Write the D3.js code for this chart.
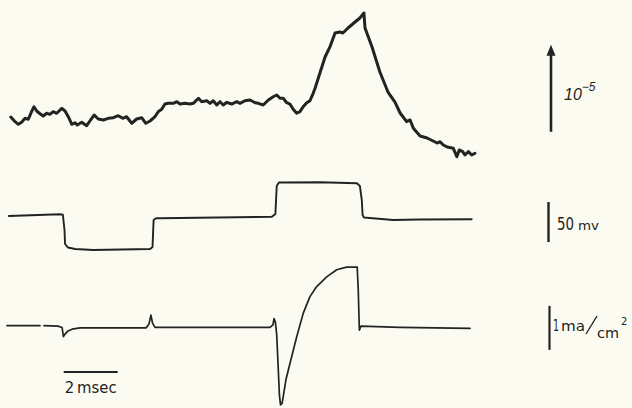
<!DOCTYPE html>
<html><head><meta charset="utf-8">
<script src="https://cdn.jsdelivr.net/npm/d3@7"></script>
<style>html,body{margin:0;padding:0;background:#fcfbf1;} svg{display:block}</style>
</head><body><svg id="c" width="632" height="408"></svg>
<script>
// ---- Top trace: optical change (units of 1e-5) ----
const lightTime = [0.14,0.30,0.42,0.54,0.67,0.79,0.91,1.00,1.10,1.20,1.34,1.47,1.59,1.71,1.84,2.03,2.15,2.27,2.40,2.52,2.60,2.77,2.95,3.07,3.23,3.38,3.57,3.75,3.94,4.12,4.29,4.43,4.62,4.80,4.99,5.14,5.30,5.48,5.60,5.73,5.85,5.97,6.16,6.29,6.41,6.59,6.78,6.90,7.09,7.21,7.40,7.52,7.64,7.77,7.89,8.01,8.14,8.32,8.51,8.63,8.81,9.00,9.19,9.31,9.49,9.68,9.86,9.99,10.11,10.23,10.36,10.48,10.60,10.73,10.85,10.97,11.10,11.22,11.34,11.41,11.59,11.78,11.96,12.15,12.33,12.44,12.63,12.89,13.07,13.22,13.26,13.52,13.81,14.11,14.37,14.56,14.80,14.93,15.05,15.30,15.56,15.93,16.04,16.16,16.30,16.53,16.66,16.75,16.88,16.96,17.09,17.21,17.33];
const lightValue = [0.00,-0.054,-0.084,-0.061,-0.015,-0.026,0.061,0.118,0.069,0.043,0.011,0.043,0.031,0.061,0.043,0.100,0.069,0.003,-0.084,-0.066,-0.092,-0.061,-0.100,-0.046,0.023,-0.023,-0.034,-0.015,-0.008,0.015,-0.015,0.003,-0.072,-0.023,-0.008,-0.072,-0.046,0.003,0.061,0.089,0.149,0.157,0.157,0.176,0.149,0.157,0.149,0.157,0.215,0.176,0.187,0.157,0.187,0.138,0.176,0.138,0.169,0.149,0.176,0.157,0.187,0.195,0.164,0.157,0.138,0.195,0.233,0.253,0.215,0.215,0.164,0.149,0.089,0.043,0.061,0.118,0.164,0.187,0.272,0.330,0.506,0.690,0.805,0.966,0.977,0.966,1.023,1.092,1.138,1.195,1.023,0.805,0.517,0.287,0.172,0.046,-0.054,-0.034,-0.130,-0.218,-0.241,-0.299,-0.284,-0.322,-0.345,-0.360,-0.456,-0.379,-0.398,-0.437,-0.398,-0.437,-0.417];

// ---- Middle trace: membrane potential step (mV) ----
const voltTime  = [0.07,1.96,2.07,2.13,2.15,2.26,2.52,3.19,5.30,5.39,5.43,5.52,5.67,9.81,9.94,9.99,10.07,11.59,12.96,13.07,13.14,13.17,13.22,14.30,15.30,17.21];
const voltValue = [0,2.2,1.5,-17.5,-35,-39.4,-41.3,-42.5,-41.3,-38.8,-5,-2.9,-2.9,-0.9,2.5,37.5,41.9,42.1,40.9,37.5,20,1.2,-1.9,-5,-4.4,-4.1];

// ---- Bottom trace: membrane current (mA/cm2); null = gap in the record ----
const currTime  = [0.00,1.22,1.26,1.37,1.89,2.04,2.09,2.15,2.26,2.41,2.70,5.15,5.26,5.33,5.39,5.48,5.67,9.74,9.85,9.89,9.94,9.99,10.04,10.09,10.13,10.19,10.23,10.33,10.48,10.73,10.97,11.22,11.47,11.84,12.21,12.58,12.97,13.01,13.05,13.11,14.56,17.15];
const currValue = [0.03,0.03,null,0.03,0.02,-0.01,-0.22,-0.16,-0.09,-0.05,-0.02,-0.02,0.07,0.27,0.09,-0.01,-0.01,-0.01,0.05,0.19,0.11,-0.18,-0.86,-1.55,-1.77,-1.73,-1.58,-1.20,-0.83,-0.22,0.31,0.69,0.92,1.14,1.30,1.36,1.36,0.84,-0.07,0.02,-0.01,-0.03];

// ---- Calibration labels ----
const calLight = {value: 1, label: "10", exp: "\u22125"};
const calVolt  = {value: 50, num: "50", unit: "mv"};
const calCurr  = {value: 1, num: "1", unit1: "ma", unit2: "cm", exp: "2"};
const calTime  = {value: 2, label: "2\u2009msec"};

const ink = "#232323";
const svg = d3.select("#c");
svg.append("rect").attr("width",632).attr("height",408).attr("fill","#fcfbf1");

const x = d3.scaleLinear().domain([0,18]).range([7,493]);
const yLight = d3.scaleLinear().domain([0,1]).range([117,30]);
const yVolt  = d3.scaleLinear().domain([0,50]).range([216,176]);
const yCurr  = d3.scaleLinear().domain([0,1]).range([327,283]);

function trace(ts, vs, ys, w){
  const pts = ts.map((t,i)=>[t,vs[i]]);
  const line = d3.line().defined(d=>d[1]!==null).x(d=>x(d[0])).y(d=>ys(d[1]));
  svg.append("path").attr("d",line(pts)).attr("fill","none").attr("stroke",ink)
     .attr("stroke-width",w).attr("stroke-linejoin","round").attr("stroke-linecap","round");
}
trace(lightTime, lightValue, yLight, 3);
trace(voltTime, voltValue, yVolt, 1.9);
trace(currTime, currValue, yCurr, 1.7);

// Light calibration arrow (1 unit)
const ax = 551, aBase = yLight(-0.17), aTip = yLight(-0.17+calLight.value);
svg.append("line").attr("x1",ax).attr("x2",ax).attr("y1",aBase).attr("y2",aTip+8)
   .attr("stroke",ink).attr("stroke-width",2.6);
svg.append("path").attr("d",`M${ax},${aTip} L${ax-4.5},${aTip+11} L${ax+4.5},${aTip+11} Z`).attr("fill",ink);
const tl = svg.append("text").attr("x",564).attr("y",100).attr("fill",ink)
  .style("font-family","'Liberation Sans',Arial,sans-serif").style("font-style","italic").style("font-size","16px");
tl.append("tspan").text(calLight.label);
tl.append("tspan").attr("dy",-9).style("font-size","12px").text(calLight.exp);

const cf = "'DejaVu Sans Condensed','DejaVu Sans',sans-serif";
// Voltage calibration bar (50 mV)
svg.append("line").attr("x1",548.5).attr("x2",548.5).attr("y1",yVolt(17.5)).attr("y2",yVolt(17.5-calVolt.value))
   .attr("stroke",ink).attr("stroke-width",2.4);
svg.append("text").attr("x",557).attr("y",230).attr("fill",ink).style("font-family",cf).style("font-size","17px")
  .attr("textLength",17).attr("lengthAdjust","spacingAndGlyphs").text(calVolt.num);
svg.append("text").attr("x",578).attr("y",230).attr("fill",ink).style("font-family",cf).style("font-size","13px")
  .attr("textLength",21).attr("lengthAdjust","spacingAndGlyphs").text(calVolt.unit);

// Current calibration bar (1 mA/cm2)
svg.append("line").attr("x1",549.5).attr("x2",549.5).attr("y1",yCurr(0.48)).attr("y2",yCurr(0.48-calCurr.value))
   .attr("stroke",ink).attr("stroke-width",2.2);
svg.append("text").attr("x",553).attr("y",331).attr("fill",ink).style("font-family",cf).style("font-size","16px")
  .attr("textLength",6).attr("lengthAdjust","spacingAndGlyphs").text(calCurr.num);
svg.append("text").attr("x",561).attr("y",331).attr("fill",ink).style("font-family",cf).style("font-size","14px")
  .attr("textLength",24).attr("lengthAdjust","spacingAndGlyphs").text(calCurr.unit1);
svg.append("line").attr("x1",586).attr("y1",334).attr("x2",597).attr("y2",316).attr("stroke",ink).attr("stroke-width",1.4);
svg.append("text").attr("x",597).attr("y",338).attr("fill",ink).style("font-family",cf).style("font-size","14px")
  .attr("textLength",22).attr("lengthAdjust","spacingAndGlyphs").text(calCurr.unit2);
svg.append("text").attr("x",621).attr("y",325).attr("fill",ink).style("font-family",cf).style("font-size","11px").text(calCurr.exp);

// Time calibration bar (2 ms)
svg.append("line").attr("x1",x(2.1)).attr("x2",x(2.1+calTime.value)).attr("y1",372).attr("y2",372)
   .attr("stroke",ink).attr("stroke-width",1.8);
svg.append("text").attr("x",x(2.1)+1).attr("y",393).attr("fill",ink).style("font-family",cf).style("font-size","15px")
  .attr("textLength",52).attr("lengthAdjust","spacingAndGlyphs").text(calTime.label);
</script></body></html>
